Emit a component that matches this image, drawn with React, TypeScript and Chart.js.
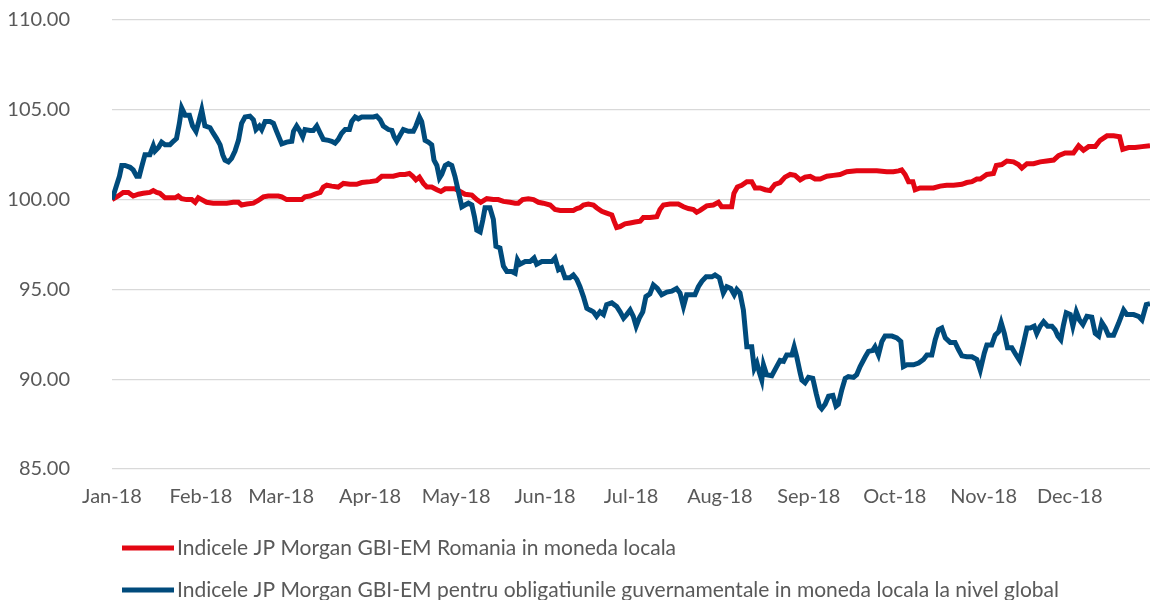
import React, { useEffect, useRef } from "react";
import { Chart, registerables } from "chart.js";

Chart.register(...registerables);

// ---------- axis / labels ----------
const monthLabels = ["Jan-18", "Feb-18", "Mar-18", "Apr-18", "May-18", "Jun-18", "Jul-18", "Aug-18", "Sep-18", "Oct-18", "Nov-18", "Dec-18"];
const monthStartDays = [0, 31, 59, 90, 120, 151, 181, 212, 243, 273, 304, 334];
const axisEndDay = 362;
const yTicks = [85, 90, 95, 100, 105, 110];

const romaniaLabel = "Indicele JP Morgan GBI-EM Romania in moneda locala";
const globalLabel = "Indicele JP Morgan GBI-EM pentru obligatiunile guvernamentale in moneda locala la nivel global";

// ---------- Romania series (day of year, index value) ----------
const romaniaDays = [
  0, 2.2, 3.9, 5.7, 7.4, 9.2, 10.9, 13.2, 14.4, 15.6,
  16.7, 18.5, 20.2, 22.0, 23.1, 24.3, 26.0, 27.8, 29.0, 30.1,
  31.3, 33.0, 35.3, 37.7, 40.0, 42.3, 44.1, 45.2, 47.0, 49.3,
  51.0, 52.8, 54.5, 56.3, 58.0, 59.2, 60.9, 63.2,
  66.2, 67.3, 69.1, 70.8, 72.6, 73.7, 74.9, 76.6, 78.9, 80.7,
  83.0, 85.3, 87.1, 90.0, 92.3, 94.1, 95.8, 98.1, 100.5, 102.2,
  103.7, 104.9, 106.0, 107.2, 108.6, 109.8, 111.5, 113.3, 114.7, 116.2,
  117.9, 119.6, 121.4, 123.1, 125.5, 127.2, 128.6,
  130.7, 133.0, 134.7, 136.5, 138.8, 140.6, 141.7, 143.2, 145.2, 147.0,
  148.7, 150.4, 152.8, 154.5, 156.3, 158.6, 160.9, 162.1, 163.2, 164.4,
  166.1, 167.9, 169.0, 170.8, 172.5, 174.3, 175.1, 176.0, 177.2, 178.9,
  180.7, 182.4, 184.2,
  185.3, 187.6, 190.0, 191.1, 192.3, 194.6, 197.5, 199.3, 201.0, 202.8,
  203.9, 205.1, 207.4, 209.7, 211.5, 212.6, 214.4, 216.1, 216.9, 218.1,
  219.6, 221.4, 223.1, 224.3, 226.0, 227.8, 229.5, 231.2, 233.0, 234.7,
  236.5, 238.2, 240.0,
  241.7, 243.5, 245.2, 247.0, 249.3, 251.6, 253.9, 256.3, 259.7, 263.2,
  266.7, 270.2, 272.5, 274.3, 275.4, 276.6, 277.8, 279.3, 280.1, 281.8,
  284.2, 286.5, 288.8, 291.1, 293.5, 296.4, 298.1, 299.9, 301.6,
  302.8, 305.1, 307.4, 308.4, 310.3, 312.1, 314.4, 316.1, 317.3, 319.1,
  321.4, 323.7, 326.0, 328.4, 330.1, 332.4, 335.3, 337.1, 338.8, 340.6,
  342.9, 344.6, 347.0, 349.3, 351.4, 352.5, 354.5, 356.8, 359.2, 362.0,
];
const romaniaValues = [
  100.0, 100.2, 100.4, 100.4, 100.2, 100.3, 100.35, 100.4, 100.5, 100.4,
  100.35, 100.1, 100.1, 100.1, 100.2, 100.05, 100.0, 100.0, 99.85, 100.1,
  100.0, 99.85, 99.8, 99.8, 99.8, 99.85, 99.85, 99.7, 99.75, 99.8,
  99.95, 100.15, 100.2, 100.2, 100.2, 100.15, 100.0, 100.0,
  100.0, 100.15, 100.2, 100.3, 100.4, 100.7, 100.8, 100.75, 100.7, 100.9,
  100.85, 100.85, 100.95, 101.0, 101.05, 101.3, 101.3, 101.3, 101.4, 101.4,
  101.45, 101.3, 101.1, 101.25, 100.9, 100.7, 100.7, 100.55, 100.45, 100.6,
  100.6, 100.6, 100.45, 100.3, 100.25, 100.0, 99.85,
  100.05, 100.0, 100.0, 99.9, 99.85, 99.8, 99.8, 100.0, 100.05, 100.0,
  99.85, 99.8, 99.7, 99.45, 99.4, 99.4, 99.4, 99.5, 99.55, 99.7,
  99.75, 99.7, 99.55, 99.35, 99.25, 99.15, 98.8, 98.45, 98.5, 98.65,
  98.7, 98.75, 98.8,
  99.0, 99.0, 99.05, 99.45, 99.7, 99.75, 99.75, 99.6, 99.5, 99.45,
  99.3, 99.4, 99.65, 99.7, 99.85, 99.6, 99.6, 99.6, 100.35, 100.7,
  100.8, 101.0, 101.0, 100.65, 100.65, 100.55, 100.5, 100.85, 100.95, 101.25,
  101.4, 101.35, 101.1,
  101.25, 101.3, 101.15, 101.15, 101.3, 101.35, 101.4, 101.55, 101.6, 101.6,
  101.6, 101.55, 101.55, 101.6, 101.65, 101.4, 101.0, 101.0, 100.55, 100.65,
  100.65, 100.65, 100.75, 100.8, 100.8, 100.85, 100.95, 101.0, 101.15,
  101.15, 101.4, 101.45, 101.9, 101.95, 102.15, 102.1, 101.95, 101.75, 102.0,
  102.0, 102.1, 102.15, 102.2, 102.45, 102.6, 102.6, 103.0, 102.75, 102.95,
  102.95, 103.3, 103.55, 103.55, 103.5, 102.8, 102.9, 102.9, 102.95, 103.0,
];

// ---------- Global series (day of year, index value) ----------
const globalDays = [
  0, 1.6, 2.6, 3.4, 4.5, 6.3, 7.4, 8.6, 9.5, 10.3,
  11.5, 13.2, 14.4, 15.0, 16.2, 17.3, 18.5, 20.2, 21.4, 22.5,
  23.5, 24.3, 25.5, 27.0, 28.1, 29.3, 30.1, 31.3, 32.4, 34.2,
  35.3, 36.5, 37.7, 38.6, 39.4, 40.6, 41.7, 42.9, 44.1, 45.2,
  46.4, 48.1, 49.3, 50.2, 51.4, 52.2, 53.4, 55.1, 56.3, 57.4,
  59.2, 60.9, 62.7,
  63.3, 64.4, 65.6, 66.5, 67.3, 69.1, 70.2, 71.4, 72.6, 73.7,
  75.5, 76.6, 77.8, 78.9, 80.1, 81.3, 82.8, 83.6, 84.8, 85.9,
  87.1, 88.8, 91.2, 92.3, 93.5, 94.6, 96.4, 97.6, 98.4, 99.3,
  100.5, 101.6, 103.4, 105.1, 106.0, 107.2, 108.0, 109.2, 110.3, 111.5,
  112.3, 113.3, 114.2, 115.0, 116.2, 117.3, 118.5, 119.6, 120.8, 122.0,
  123.1, 124.3, 125.5, 126.4, 127.2, 128.4, 129.3,
  130.1, 131.8, 133.0, 133.9, 135.3, 136.5, 137.7, 139.4, 140.6, 141.4,
  142.3, 144.1, 145.8, 147.2, 148.1, 149.9, 151.6, 153.4, 154.5, 155.7,
  156.8, 158.0, 159.7, 160.9, 162.1, 163.2, 164.4, 165.6, 166.7, 167.9,
  169.0, 170.2, 171.4, 172.5, 174.3, 176.0, 177.2, 178.4, 179.5, 180.7,
  181.8, 182.8,
  183.9, 185.1, 186.2, 187.6, 188.8, 190.2, 191.7, 193.5, 195.2, 196.9,
  198.1, 199.3, 200.4, 202.2, 203.3, 204.5, 205.7, 207.2, 209.2, 210.3,
  211.8, 213.2, 214.4, 215.8, 217.0, 217.9, 219.0, 220.2, 221.4, 223.1,
  224.0, 224.9, 225.8, 226.6, 227.2, 228.3, 230.1, 231.8, 233.0, 234.2,
  235.3, 237.1, 237.9, 238.8, 240.0,
  240.6, 241.7, 242.9, 244.4, 245.6, 246.7, 247.5, 248.7, 249.9, 251.4,
  252.5, 253.3, 254.5, 255.7, 256.8, 258.6, 259.7, 260.9, 262.7, 263.8,
  265.3, 266.1, 267.3, 268.5, 269.6, 272.0, 273.7, 275.1, 276.0, 277.2,
  279.5, 281.3, 283.0, 284.2, 285.9, 287.1, 288.2, 289.4, 290.6, 292.3,
  294.0, 295.2, 296.4, 298.1, 299.9, 301.6, 302.8,
  304.2, 305.1, 306.8, 308.0, 309.2, 310.1, 311.2, 312.3, 313.8, 315.3,
  316.5, 317.9, 319.1, 320.2, 321.6, 322.5, 323.7, 324.9, 326.3, 327.8,
  328.9, 329.9, 330.9, 331.8, 332.8, 334.2, 335.1, 336.3, 337.4, 338.6,
  340.0, 341.7, 342.9, 344.1, 345.2, 346.4, 347.5, 349.3, 351.0, 352.8,
  353.9, 356.3, 358.0, 359.2, 360.7, 362.0,
];
const globalValues = [
  100.0, 100.8, 101.3, 101.9, 101.9, 101.8, 101.65, 101.3, 101.3, 101.8,
  102.5, 102.5, 103.0, 102.7, 102.9, 103.2, 103.05, 103.05, 103.25, 103.4,
  104.25, 105.1, 104.7, 104.7, 104.1, 103.8, 104.25, 105.0, 104.1, 104.0,
  103.7, 103.4, 103.05, 102.5, 102.2, 102.1, 102.3, 102.7, 103.3, 104.25,
  104.6, 104.65, 104.45, 103.9, 104.1, 103.9, 104.35, 104.35, 104.25, 103.8,
  103.1, 103.2, 103.25,
  103.8, 104.1, 103.8, 103.5, 103.9, 103.85, 103.85, 104.1, 103.7, 103.35,
  103.3, 103.25, 103.15, 103.35, 103.7, 103.9, 103.9, 104.35, 104.6, 104.5,
  104.6, 104.6, 104.6, 104.65, 104.45, 104.1, 103.9, 103.85, 103.5, 103.25,
  103.6, 103.9, 103.8, 103.8, 104.1, 104.6, 104.35, 103.3, 103.2, 103.05,
  102.2, 101.9, 101.2, 101.4, 101.9, 102.0, 101.9, 101.3, 100.45, 99.6,
  99.7, 99.8, 99.7, 99.05, 98.3, 98.2, 98.85,
  99.55, 99.55, 98.9, 97.4, 97.3, 96.3, 96.0, 96.0, 95.9, 96.65,
  96.4, 96.55, 96.55, 96.75, 96.4, 96.55, 96.55, 96.55, 96.75, 96.1,
  96.2, 95.65, 95.65, 95.8, 95.55, 95.15, 94.6, 93.95, 93.85, 93.75,
  93.5, 93.75, 93.6, 94.15, 94.25, 94.05, 93.75, 93.4, 93.6, 93.85,
  93.5, 92.95,
  93.4, 93.75, 94.6, 94.75, 95.25, 95.05, 94.7, 94.85, 94.9, 95.05,
  94.8, 94.05, 94.7, 94.7, 94.7, 95.15, 95.45, 95.7, 95.7, 95.8,
  95.65, 94.8, 95.15, 95.05, 94.7, 95.0, 94.8, 93.85, 91.8, 91.8,
  90.6, 90.9, 90.35, 89.95, 90.8, 90.25, 90.2, 90.7, 91.05, 91.0,
  91.35, 91.35, 91.8, 91.25, 90.35,
  89.95, 89.8, 90.1, 90.05, 89.2, 88.5, 88.35, 88.6, 89.05, 89.1,
  88.5, 88.6, 89.4, 90.05, 90.15, 90.1, 90.25, 90.7, 91.25, 91.55,
  91.6, 91.8, 91.35, 92.1, 92.4, 92.4, 92.3, 92.1, 90.7, 90.8,
  90.8, 90.9, 91.1, 91.35, 91.35, 92.2, 92.75, 92.85, 92.3, 92.05,
  92.05, 91.65, 91.3, 91.25, 91.25, 91.1, 90.5,
  91.45, 91.9, 91.9, 92.45, 92.65, 93.15, 92.55, 91.75, 91.75, 91.35,
  91.05, 92.0, 92.85, 92.85, 92.95, 92.55, 92.95, 93.2, 92.95, 92.95,
  92.75, 92.4, 92.2, 93.0, 93.7, 93.6, 92.95, 93.75, 93.3, 93.05,
  93.5, 93.45, 92.55, 92.4, 93.15, 92.85, 92.45, 92.45, 93.1, 93.85,
  93.6, 93.6, 93.5, 93.3, 94.15, 94.2,
];

// ---------- styling ----------
const RED = "#E30613";
const BLUE = "#004B7C";
const TEXT = "#595959";
const GRID = "#D9D9D9";
const FONT = "Lato, 'Open Sans', sans-serif";
const FONT_SIZE = 20;
const LEGEND_FONT_SIZE = 21;

const legendPlugin = {
  id: "bottomLegend",
  afterDraw(chart: any) {
    const ctx = chart.ctx as CanvasRenderingContext2D;
    const rowsY = [548, 590];
    chart.data.datasets.forEach((ds: any, i: number) => {
      const y = rowsY[i];
      ctx.save();
      ctx.strokeStyle = ds.borderColor;
      ctx.lineWidth = 5;
      ctx.lineCap = "butt";
      ctx.beginPath();
      ctx.moveTo(122, y);
      ctx.lineTo(174, y);
      ctx.stroke();
      ctx.fillStyle = TEXT;
      ctx.font = `${LEGEND_FONT_SIZE}px ${FONT}`;
      ctx.textAlign = "left";
      ctx.textBaseline = "middle";
      ctx.fillText(ds.label, 177, y);
      ctx.restore();
    });
  },
};

export default function App() {
  const canvasRef = useRef<HTMLCanvasElement>(null);

  useEffect(() => {
    document.body.style.margin = "0";
    let chart: any = null;
    let cancelled = false;

    const build = () => {
      if (cancelled || !canvasRef.current) return;
      chart = new Chart(canvasRef.current, {
        type: "line",
        data: {
          datasets: [
            {
              label: romaniaLabel,
              data: romaniaDays.map((d, i) => ({ x: d, y: romaniaValues[i] })),
              borderColor: RED,
              backgroundColor: RED,
              borderWidth: 5,
              pointRadius: 0,
              tension: 0,
              fill: false,
              order: 1,
            },
            {
              label: globalLabel,
              data: globalDays.map((d, i) => ({ x: d, y: globalValues[i] })),
              borderColor: BLUE,
              backgroundColor: BLUE,
              borderWidth: 5,
              pointRadius: 0,
              tension: 0,
              fill: false,
              order: 0,
            },
          ],
        },
        options: {
          responsive: false,
          animation: false,
          layout: { padding: { top: 20, left: 0, right: 0, bottom: 0 } },
          plugins: {
            legend: { display: false },
            tooltip: { enabled: false },
          },
          scales: {
            x: {
              type: "linear",
              min: 0,
              max: axisEndDay,
              afterBuildTicks: (scale: any) => {
                scale.ticks = monthStartDays.map((v) => ({ value: v }));
              },
              afterFit: (scale: any) => {
                scale.height = 131;
              },
              grid: { display: false, drawTicks: false },
              border: { display: false },
              ticks: {
                autoSkip: false,
                maxRotation: 0,
                padding: 16,
                color: TEXT,
                font: { family: FONT, size: FONT_SIZE },
                callback: (_v: any, i: number) => monthLabels[i],
              },
            },
            y: {
              type: "linear",
              min: 85,
              max: 110,
              afterBuildTicks: (scale: any) => {
                scale.ticks = yTicks.map((v) => ({ value: v }));
              },
              afterFit: (scale: any) => {
                scale.width = 112;
                scale.paddingTop = 0;
                scale.paddingBottom = 0;
              },
              grid: { color: GRID, lineWidth: 1.3, drawTicks: false },
              border: { display: false },
              ticks: {
                padding: 42,
                color: TEXT,
                font: { family: FONT, size: FONT_SIZE },
                callback: (v: any) => Number(v).toFixed(2),
              },
            },
          },
        },
        plugins: [legendPlugin],
      });
    };

    const fonts: any = (document as any).fonts;
    if (fonts && fonts.load) {
      fonts.load(`${FONT_SIZE}px Lato`).then(build, build);
    } else {
      build();
    }

    return () => {
      cancelled = true;
      if (chart) chart.destroy();
    };
  }, []);

  return (
    <div style={{ width: 1150, height: 600 }}>
      <canvas ref={canvasRef} width={1150} height={600} style={{ display: "block" }} />
    </div>
  );
}
